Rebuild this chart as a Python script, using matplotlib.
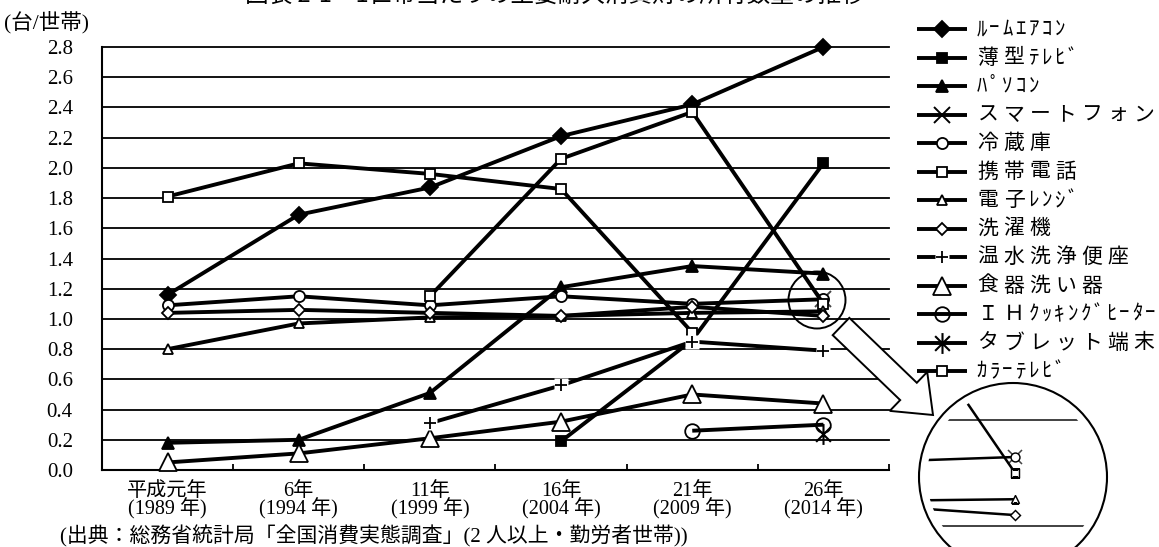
import unicodedata

import matplotlib
matplotlib.use("Agg")
import matplotlib.pyplot as plt
import numpy as np
from matplotlib.patches import Circle, FancyArrow
from matplotlib.path import Path

W, H = 1159, 547
CJK = "Noto Sans CJK JP"
SERIF = "Liberation Serif"
plt.rcParams["font.family"] = [SERIF, CJK]

# ---------------------------------------------------------------- data
years = ["平成元年\n(1989 年)", "6年\n(1994 年)", "11年\n(1999 年)",
         "16年\n(2004 年)", "21年\n(2009 年)", "26年\n(2014 年)"]
nan = np.nan
room_aircon = [1.16, 1.69, 1.87, 2.21, 2.42, 2.80]
flat_tv = [nan, nan, nan, 0.19, 0.86, 2.03]
pc = [0.18, 0.20, 0.51, 1.21, 1.35, 1.30]
smartphone = [nan, nan, nan, nan, nan, 1.13]
fridge = [1.09, 1.15, 1.09, 1.15, 1.10, 1.13]
mobile = [nan, nan, 1.15, 2.06, 2.37, 1.10]
microwave = [0.80, 0.97, 1.01, 1.02, 1.04, 1.05]
washer = [1.04, 1.06, 1.04, 1.02, 1.08, 1.02]
washlet = [nan, nan, 0.31, 0.56, 0.85, 0.79]
dishwasher = [0.05, 0.11, 0.21, 0.32, 0.50, 0.44]
ih_heater = [nan, nan, nan, nan, 0.26, 0.30]
tablet = [nan, nan, nan, nan, nan, 0.24]
color_tv = [1.81, 2.03, 1.96, 1.86, 0.91, nan]

labels = ["ﾙｰﾑｴｱｺﾝ", "薄型ﾃﾚﾋﾞ", "ﾊﾟｿｺﾝ", "スマートフォン", "冷蔵庫", "携帯電話",
          "電子ﾚﾝｼﾞ", "洗濯機", "温水洗浄便座", "食器洗い器", "ＩＨｸｯｷﾝｸﾞﾋｰﾀｰ",
          "タブレット端末", "ｶﾗｰﾃﾚﾋﾞ"]
series = [room_aircon, flat_tv, pc, smartphone, fridge, mobile, microwave,
          washer, washlet, dishwasher, ih_heater, tablet, color_tv]
y_ticks = [0.0, 0.2, 0.4, 0.6, 0.8, 1.0, 1.2, 1.4, 1.6, 1.8, 2.0, 2.2, 2.4, 2.6, 2.8]

title = "図表 2-1　1世帯当たりの主要耐久消費財の所有数量の推移"
y_label = "(台/世帯)"
source = "(出典：総務省統計局「全国消費実態調査」(2 人以上・勤労者世帯))"

# ---------------------------------------------------------------- styles
asterisk = Path([(0, -1), (0, 1), (-0.707, -0.707), (0.707, 0.707),
                 (-0.707, 0.707), (0.707, -0.707)],
                [Path.MOVETO, Path.LINETO] * 3)

styles = [
    dict(marker="D", ms=8, mfc="k"),
    dict(marker="s", ms=7.5, mfc="k"),
    dict(marker="^", ms=9, mfc="k"),
    dict(marker="x", ms=12, mfc="none", mew=1.4, plot_mec="#444444"),
    dict(marker="o", ms=8, mfc="w"),
    dict(marker="s", ms=7, mfc="w"),
    dict(marker="^", ms=7.5, mfc="w"),
    dict(marker="D", ms=6.5, mfc="w"),
    dict(marker="+", ms=8, mfc="k", gap=True),
    dict(marker="^", ms=13, mfc="w"),
    dict(marker="o", ms=10.5, mfc="w", under=True),
    dict(marker=asterisk, ms=15, mfc="none", mew=1.5),
    dict(marker="s", ms=7.5, mfc="w"),
]


def draw_style(a, xs, ys, st, lw, every=None, scale=1.0, z=3, legend=False):
    ms = st["ms"] * scale
    mew = st.get("mew", 1.3) * scale
    mec = "k" if legend else st.get("plot_mec", "k")
    if st.get("under"):
        a.plot(xs, ys, ls="none", marker=st["marker"], ms=ms, mfc=st["mfc"],
               mec=mec, mew=mew, markevery=every, zorder=z, clip_on=False)
        a.plot(xs, ys, color="k", lw=lw, zorder=z + 0.5, clip_on=False,
               solid_capstyle="butt")
    elif st.get("gap"):
        a.plot(xs, ys, color="k", lw=lw, zorder=z, clip_on=False,
               solid_capstyle="butt")
        a.plot(xs, ys, ls="none", marker="s", ms=10 * scale, mfc="w",
               mec="none", markevery=every, zorder=z + 0.2, clip_on=False)
        a.plot(xs, ys, ls="none", marker="+", ms=ms, mec="k", mew=mew,
               markevery=every, zorder=z + 0.4, clip_on=False)
    else:
        a.plot(xs, ys, color="k", lw=lw, marker=st["marker"], ms=ms,
               mfc=st["mfc"], mec=mec, mew=mew, markevery=every, zorder=z,
               clip_on=False, solid_capstyle="butt")


# ---------------------------------------------------------------- figure
fig = plt.figure(figsize=(W / 100, H / 100), dpi=100)

ax = fig.add_axes([102 / W, (H - 470) / H, (889 - 102) / W, (470 - 47) / H])
x = np.arange(len(years))
ax.set_xlim(-0.5, len(years) - 0.5)
ax.set_ylim(0, 2.8)

for vals, st in zip(series, styles):
    draw_style(ax, x, vals, st, lw=2.8)

ax.set_yticks(y_ticks)
ax.set_yticklabels([f"{v:.1f}" for v in y_ticks], fontsize=15)
ax.tick_params(axis="y", length=0, pad=21)
ax.yaxis.grid(True, color="k", lw=1.3)
for gl in ax.get_ygridlines():
    gl.set_clip_on(False)
ax.set_axisbelow(True)

ax.set_xticks(np.arange(-0.5, len(years), 1.0))
ax.set_xticklabels([])
ax.set_xticks(x, minor=True)
ax.set_xticklabels(years, minor=True, fontsize=14.5, linespacing=0.8)
ax.tick_params(axis="x", which="major", direction="in", length=4, width=1.3)
ax.tick_params(axis="x", which="minor", length=0, pad=9)

for side in ("top", "right"):
    ax.spines[side].set_visible(False)
for side in ("left", "bottom"):
    ax.spines[side].set_linewidth(1.5)

# overlay in pixel units for titles, legend and the call-out
ov = fig.add_axes([0, 0, 1, 1])
ov.set_xlim(0, W)
ov.set_ylim(H, 0)
ov.axis("off")
ov.set_zorder(10)

ov.text(245, -5, title, fontsize=17, family=[CJK], ha="left", va="center")
ov.text(4, 22, y_label, fontsize=15.5, ha="left", va="center")
ov.text(60, 536, source, fontsize=15, ha="left", va="center")


def spaced_text(a, x0, y0, s, pitch, **kw):
    for ch in s:
        w = pitch if unicodedata.east_asian_width(ch) in ("F", "W") else pitch / 2
        a.text(x0 + w / 2, y0, ch, ha="center", va="center", **kw)
        x0 += w


for i, (lab, st) in enumerate(zip(labels, styles)):
    yy = 29 + 28.5 * i
    draw_style(ov, [917, 942, 967], [yy, yy, yy], st, lw=2.8, every=[1], z=11,
               legend=True)
    spaced_text(ov, 975, yy, lab, 26, fontsize=15, family=[CJK])

# call-out: small ring on the 2014 cluster, arrow and magnified view
ov.add_patch(Circle((817, 300), 28.5, fill=False, ec="k", lw=1.4, zorder=12))
ov.add_patch(FancyArrow(841, 326.5, 92, 88.5, width=24, head_width=54,
                        head_length=34, length_includes_head=True,
                        fc="w", ec="k", lw=1.4, zorder=13))
ov.add_patch(Circle((1013, 477), 94, fill=False, ec="k", lw=1.5, zorder=12))

px_cat, px_val = 459.0, 528.0
cx, cy = 1015.0, 457.0
ins = fig.add_axes([919 / W, (H - 571) / H, 188 / W, 188 / H])
ins.set_xlim(5 - (cx - 919) / px_cat, 5 + (1107 - cx) / px_cat)
ins.set_ylim(1.13 - (571 - cy) / px_val, 1.13 + (cy - 383) / px_val)
ins.axis("off")
ins.set_zorder(11)
for g in (1.0, 1.2):
    ins.axhline(g, color="#333333", lw=1.3)
for vals, st in zip(series, styles):
    draw_style(ins, x, vals, st, lw=1.8, scale=0.8)
clip = Circle((1013, 477), 86, transform=ov.transData)
for art in ins.lines:
    art.set_clip_on(True)
    art.set_clip_path(clip)

fig.savefig("out.png", dpi=100)
